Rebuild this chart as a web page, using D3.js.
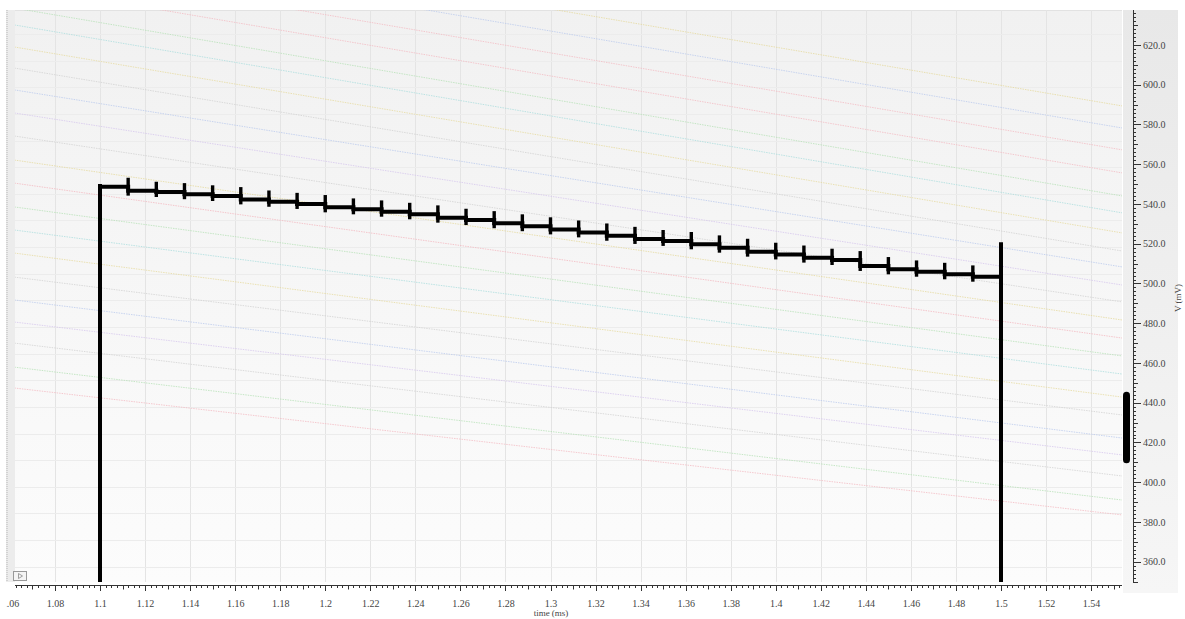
<!DOCTYPE html>
<html>
<head>
<meta charset="utf-8">
<script src="https://cdn.jsdelivr.net/npm/d3@7"></script>
<style>
body { margin: 0; background: #fff; }
svg { display: block; font-family: "Liberation Serif", "DejaVu Serif", serif; }
</style>
</head>
<body>
<svg width="1185" height="619"></svg>
<script>
// tick labels
var xTicks = [1.06, 1.08, 1.1, 1.12, 1.14, 1.16, 1.18, 1.2, 1.22, 1.24, 1.26, 1.28, 1.3,
              1.32, 1.34, 1.36, 1.38, 1.4, 1.42, 1.44, 1.46, 1.48, 1.5, 1.52, 1.54];
var yTicks = [360, 380, 400, 420, 440, 460, 480, 500, 520, 540, 560, 580, 600, 620];

// the recorded sweep: step boundaries (ms) and the level of each step (mV)
var stepTimes = [1.1, 1.1125, 1.125, 1.1375, 1.15, 1.1625, 1.175, 1.1875, 1.2, 1.2125, 1.225,
                 1.2375, 1.25, 1.2625, 1.275, 1.2875, 1.3, 1.3125, 1.325, 1.3375, 1.35, 1.3625,
                 1.375, 1.3875, 1.4, 1.4125, 1.425, 1.4375, 1.45, 1.4625, 1.475, 1.4875, 1.5];
var stepLevels = [548.7, 546.7, 546.0, 544.9, 544.0, 542.3, 541.1, 540.0, 538.3, 537.3, 536.1,
                  534.8, 533.1, 531.9, 530.3, 528.8, 527.2, 525.7, 524.0, 522.4, 521.4, 519.7,
                  518.0, 516.0, 514.6, 513.0, 511.8, 508.8, 507.1, 505.9, 504.6, 503.4];
var riseTop = 550.0, fallTop = 520.7, floorV = 340;

// faint background sweeps: value at left edge / right edge (mV)
var bgT = [1.062, 1.554];
var bgStart = [683.9, 672.8, 661.8, 650.2, 638.6, 630.1, 619.0, 608.4, 597.4, 585.8, 574.2, 562.1,
               550.5, 538.5, 526.9, 515.3, 503.2, 491.7, 480.6, 470.0, 457.9, 447.4];
var bgEnd   = [589.3, 578.2, 567.2, 555.6, 544.0, 535.5, 525.4, 516.3, 508.3, 499.2, 490.7, 481.6,
               472.5, 463.5, 454.4, 442.8, 433.8, 422.2, 413.7, 403.1, 391.0, 383.5];
var bgColors = ["#e4d89a", "#b8c8ec", "#f3b8c0", "#f3b8c0", "#b4e0b4", "#a8dcdc", "#e6da9c", "#d0d0d0",
                "#b8c8ec", "#d4c4ec", "#d0d0d0", "#e4d89a", "#f3b6be", "#b4e0b4", "#a8dcdc", "#e6da9c",
                "#d0d0d0", "#b8c8ec", "#d4c4ec", "#d0d0d0", "#b4e0b4", "#f3b8c0"];

var handleRange = [409.5, 445.5];

var svg = d3.select("svg");
var L = 15, R = 1122, T = 10, B = 582, axisY = 585, axisX = 1133;

var x = d3.scaleLinear().domain([1.1, 1.5]).range([100, 1001]);
var y = d3.scaleLinear().domain([360, 620]).range([561.7, 45]);

var defs = svg.append("defs");
var g1 = defs.append("linearGradient").attr("id", "bg").attr("x1", 0).attr("y1", 0).attr("x2", 0).attr("y2", 1);
g1.append("stop").attr("offset", 0).attr("stop-color", "#f1f1f1");
g1.append("stop").attr("offset", 1).attr("stop-color", "#fcfcfc");
var g2 = defs.append("linearGradient").attr("id", "side").attr("x1", 0).attr("y1", 0).attr("x2", 0).attr("y2", 1);
g2.append("stop").attr("offset", 0).attr("stop-color", "#e8e8e8");
g2.append("stop").attr("offset", 1).attr("stop-color", "#f6f6f6");
defs.append("clipPath").attr("id", "plot").append("rect")
    .attr("x", L).attr("y", T).attr("width", R - L).attr("height", B - T);
defs.append("clipPath").attr("id", "xlab").append("rect")
    .attr("x", 6).attr("y", 0).attr("width", 1180).attr("height", 619);

// plot background
svg.append("rect").attr("x", L).attr("y", T).attr("width", R - L).attr("height", B - T).attr("fill", "url(#bg)");
svg.append("line").attr("x1", L).attr("x2", R).attr("y1", T + 0.5).attr("y2", T + 0.5).attr("stroke", "#e2e2e2");
svg.append("rect").attr("x", 6).attr("y", T).attr("width", L - 6).attr("height", B - T).attr("fill", "#ececec");
svg.append("line").attr("x1", 7).attr("x2", 7).attr("y1", T).attr("y2", B)
    .attr("stroke", "#b8b8b8").attr("stroke-dasharray", "1,1");

// right axis panel
svg.append("rect").attr("x", R + 1).attr("y", T).attr("width", 55).attr("height", 583).attr("fill", "url(#side)");

var plot = svg.append("g").attr("clip-path", "url(#plot)");

// grid
plot.selectAll(".gx").data(xTicks).enter().append("line")
    .attr("x1", d => Math.round(x(d)) + 0.5).attr("x2", d => Math.round(x(d)) + 0.5)
    .attr("y1", T).attr("y2", B).attr("stroke", "#e4e4e4");
plot.selectAll(".gy").data(d3.range(357.5, 640, 13.4)).enter().append("line")
    .attr("x1", L).attr("x2", R)
    .attr("y1", d => Math.round(y(d)) + 0.5).attr("y2", d => Math.round(y(d)) + 0.5)
    .attr("stroke", "#ececec");

// background sweeps
plot.selectAll(".bg").data(bgStart).enter().append("line")
    .attr("x1", x(bgT[0])).attr("x2", x(bgT[1]))
    .attr("y1", d => y(d)).attr("y2", (d, i) => y(bgEnd[i]))
    .attr("stroke", (d, i) => bgColors[i]).attr("stroke-width", 1)
    .attr("stroke-opacity", 0.75)
    .attr("stroke-dasharray", "1.5,1");

// main trace
var pts = [[1.1, floorV], [1.1, riseTop]];
stepLevels.forEach(function(v, i) {
    pts.push([stepTimes[i], v], [stepTimes[i + 1], v]);
});
pts.push([1.5, fallTop], [1.5, floorV]);

var line = d3.line().x(d => x(d[0])).y(d => y(d[1]));
plot.append("path").attr("d", line(pts)).attr("fill", "none")
    .attr("stroke", "#000").attr("stroke-width", 4).attr("stroke-linejoin", "miter");

plot.selectAll(".spike").data(stepTimes.slice(1, -1)).enter().append("line")
    .attr("x1", d => x(d)).attr("x2", d => x(d))
    .attr("y1", (d, i) => y(stepLevels[i] + 4.5))
    .attr("y2", (d, i) => y(stepLevels[i + 1] - 2.5))
    .attr("stroke", "#000").attr("stroke-width", 3.4);

// bottom axis
var xa = svg.append("g").attr("clip-path", "url(#xlab)");
xa.append("line").attr("x1", L).attr("x2", R).attr("y1", axisY + 0.5).attr("y2", axisY + 0.5).attr("stroke", "#333");

var xMinor = d3.range(1.0625, 1.554, 0.0025).filter(d => x(d) >= L && x(d) <= R);
xa.selectAll(".xm").data(xMinor).enter().append("line")
    .attr("x1", d => Math.round(x(d)) + 0.5).attr("x2", d => Math.round(x(d)) + 0.5)
    .attr("y1", axisY).attr("y2", (d) => {
        var k = Math.round(d / 0.0025);
        return axisY + (k % 8 === 0 ? 6 : (k % 4 === 0 ? 4.5 : 3));
    })
    .attr("stroke", "#333");

var xAxis = d3.axisBottom(x).tickValues(xTicks).tickSize(0).tickPadding(15)
    .tickFormat(d => String(+d.toFixed(2)));
var xg = xa.append("g").attr("transform", "translate(0," + axisY + ")").call(xAxis);
xg.select(".domain").remove();
xg.selectAll("text").attr("font-family", "Liberation Serif, serif").attr("font-size", 10).attr("fill", "#444");

svg.append("text").attr("x", 551).attr("y", 616).attr("text-anchor", "middle")
    .attr("font-size", 9).attr("fill", "#444").text("time (ms)");

// right axis
svg.append("line").attr("x1", axisX + 0.5).attr("x2", axisX + 0.5).attr("y1", T).attr("y2", 583).attr("stroke", "#333");
var yMinor = d3.range(350, 638, 2).filter(d => y(d) >= T && y(d) <= 583);
svg.selectAll(".ym").data(yMinor).enter().append("line")
    .attr("x1", axisX).attr("x2", d => axisX + (d % 20 === 0 ? 8 : (d % 10 === 0 ? 5 : 3)))
    .attr("y1", d => Math.round(y(d)) + 0.5).attr("y2", d => Math.round(y(d)) + 0.5)
    .attr("stroke", "#333");

var yAxis = d3.axisRight(y).tickValues(yTicks).tickSize(0).tickPadding(10)
    .tickFormat(d3.format(".1f"));
var yg = svg.append("g").attr("transform", "translate(" + axisX + ",0)").call(yAxis);
yg.select(".domain").remove();
yg.selectAll("text").attr("font-family", "Liberation Serif, serif").attr("font-size", 10).attr("fill", "#444");

svg.append("text").attr("transform", "translate(1181,298) rotate(-90)")
    .attr("text-anchor", "middle").attr("font-size", 9).attr("fill", "#444").text("V (mV)");

// handle on the right axis
svg.append("rect").attr("x", 1123).attr("width", 7)
    .attr("y", y(handleRange[1])).attr("height", y(handleRange[0]) - y(handleRange[1]))
    .attr("rx", 3.5).attr("fill", "#000");

// play button
svg.append("rect").attr("x", 13.5).attr("y", 571.5).attr("width", 13).attr("height", 9)
    .attr("fill", "#f4f4f4").attr("stroke", "#999");
svg.append("path").attr("d", "M18.5,573.5 L22.5,576 L18.5,578.5 Z").attr("fill", "none").attr("stroke", "#888").attr("stroke-width", 0.8);
</script>
</body>
</html>
